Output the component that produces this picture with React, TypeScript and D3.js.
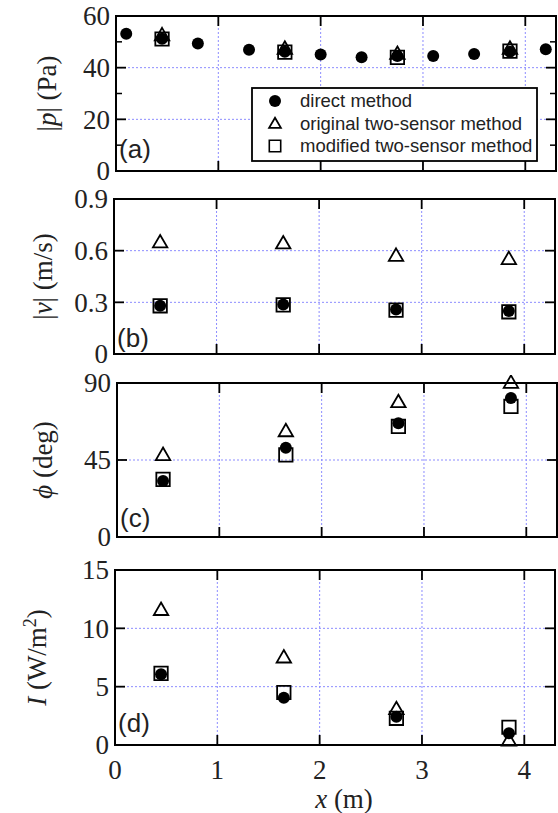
import React from 'react';
import * as d3 from 'd3';

// Four stacked panels sharing the x axis (position along the duct).
// Filled circles: direct method, triangles: original two-sensor, squares: modified two-sensor.

const W = 558;
const H = 813;

const xDirect = [0.1, 0.45, 0.8, 1.3, 1.65, 2.0, 2.4, 2.75, 3.1, 3.5, 3.85, 4.2];
const pDirect = [53.1, 51.2, 49.4, 46.9, 46.2, 45.1, 44.0, 44.5, 44.5, 45.3, 46.2, 47.1];

const xSensor = [0.45, 1.65, 2.75, 3.85];
const pOriginal = [52.2, 47.0, 45.0, 47.0];
const pModified = [51.1, 46.0, 44.0, 46.4];

const vDirect = [0.28, 0.288, 0.259, 0.249];
const vOriginal = [0.643, 0.637, 0.565, 0.546];
const vModified = [0.28, 0.285, 0.255, 0.245];

const phiDirect = [32.7, 52.2, 66.5, 81.2];
const phiOriginal = [47.4, 61.3, 78.3, 89.6];
const phiModified = [33.7, 48.0, 64.6, 76.3];

const iDirect = [6.06, 4.06, 2.43, 1.0];
const iOriginal = [11.5, 7.43, 3.0, 0.3];
const iModified = [6.14, 4.5, 2.29, 1.52];

const xTicks = [0, 1, 2, 3, 4];
const legendLabels = ['direct method', 'original two-sensor method', 'modified two-sensor method'];

const SERIF = '"Liberation Serif", "Times New Roman", serif';
const SANS = '"Liberation Sans", Arial, sans-serif';
const GRID = '#8c8cff';

type Panel = {
  key: string;
  top: number;
  bottom: number;
  left: number;
  right: number;
  domain: [number, number];
  ticks: number[];
  minor: number[];
  tickFmt: (v: number) => string;
  direct: { x: number[]; y: number[] };
  original: number[];
  modified: number[];
  title: React.ReactNode;
  titleX: number;
  letterOff: number;
};

const panels: Panel[] = [
  {
    key: 'a', top: 16, bottom: 171, left: 116, right: 556,
    domain: [0, 60], ticks: [0, 20, 40, 60], minor: [10, 30, 50],
    tickFmt: v => String(v),
    direct: { x: xDirect, y: pDirect }, original: pOriginal, modified: pModified,
    title: <>|<tspan fontStyle="italic">p</tspan>| (Pa)</>, titleX: 56, letterOff: 13,
  },
  {
    key: 'b', top: 199, bottom: 354, left: 114, right: 555,
    domain: [0, 0.9], ticks: [0, 0.3, 0.6, 0.9], minor: [],
    tickFmt: v => (v === 0 ? '0' : String(v)),
    direct: { x: xSensor, y: vDirect }, original: vOriginal, modified: vModified,
    title: <>|<tspan fontStyle="italic">v</tspan>| (m/s)</>, titleX: 52, letterOff: 7,
  },
  {
    key: 'c', top: 383, bottom: 537, left: 117, right: 557,
    domain: [0, 90], ticks: [0, 45, 90], minor: [],
    tickFmt: v => String(v),
    direct: { x: xSensor, y: phiDirect }, original: phiOriginal, modified: phiModified,
    title: <><tspan fontStyle="italic">ϕ</tspan> (deg)</>, titleX: 52, letterOff: 10,
  },
  {
    key: 'd', top: 570, bottom: 745, left: 115, right: 555,
    domain: [0, 15], ticks: [0, 5, 10, 15], minor: [],
    tickFmt: v => String(v),
    direct: { x: xSensor, y: iDirect }, original: iOriginal, modified: iModified,
    title: <><tspan fontStyle="italic">I</tspan> (W/m<tspan dy="-10" fontSize="18">2</tspan><tspan dy="10">)</tspan></>, titleX: 46, letterOff: 13,
  },
];

const triPath = d3.symbol(d3.symbolTriangle, 90)()!;
const sqPath = d3.symbol(d3.symbolSquare, 180)()!;

function PanelView({ p }: { p: Panel }) {
  const x = d3.scaleLinear().domain([0, 4.3]).range([p.left, p.right]);
  const y = d3.scaleLinear().domain(p.domain).range([p.bottom, p.top]);
  const inner = p.ticks.slice(1, -1);
  const MAJ = 10;
  const MIN = 6;
  const clipId = `clip-${p.key}`;
  return (
    <g>
      <clipPath id={clipId}>
        <rect x={p.left - 8} y={p.top - 8} width={p.right - p.left + 16} height={p.bottom - p.top + 16} />
      </clipPath>
      {/* grid */}
      {xTicks.slice(1).map(t => (
        <line key={`gx${t}`} x1={x(t)} x2={x(t)} y1={p.top} y2={p.bottom}
          stroke={GRID} strokeWidth={1} strokeDasharray="2,2" />
      ))}
      {inner.map(t => (
        <line key={`gy${t}`} x1={p.left} x2={p.right} y1={y(t)} y2={y(t)}
          stroke={GRID} strokeWidth={1} strokeDasharray="2,2" />
      ))}
      {/* ticks */}
      {xTicks.slice(1).map(t => (
        <g key={`tx${t}`} stroke="#000" strokeWidth={1.8}>
          <line x1={x(t)} x2={x(t)} y1={p.bottom} y2={p.bottom - MAJ} />
          <line x1={x(t)} x2={x(t)} y1={p.top} y2={p.top + MAJ} />
        </g>
      ))}
      {inner.map(t => (
        <g key={`ty${t}`} stroke="#000" strokeWidth={1.8}>
          <line x1={p.left} x2={p.left + MAJ} y1={y(t)} y2={y(t)} />
          <line x1={p.right} x2={p.right - MAJ} y1={y(t)} y2={y(t)} />
        </g>
      ))}
      {p.minor.map(t => (
        <g key={`tm${t}`} stroke="#000" strokeWidth={1.5}>
          <line x1={p.left} x2={p.left + MIN} y1={y(t)} y2={y(t)} />
          <line x1={p.right} x2={p.right - MIN} y1={y(t)} y2={y(t)} />
        </g>
      ))}
      {/* y tick labels */}
      {p.ticks.map(t => (
        <text key={`yl${t}`} x={p.left - 6} y={y(t)} dy="0.35em" textAnchor="end"
          fontFamily={SERIF} fontSize={27} fill="#222">{p.tickFmt(t)}</text>
      ))}
      {/* y title */}
      <text transform={`translate(${p.titleX},${(p.top + p.bottom) / 2}) rotate(-90)`}
        textAnchor="middle" fontFamily={SERIF} fontSize={27} fill="#222">{p.title}</text>
      {/* panel letter */}
      <text x={p.left + 3} y={p.bottom - p.letterOff} fontFamily={SANS} fontSize={26} fill="#222">({p.key})</text>
      {/* markers */}
      <g clipPath={`url(#${clipId})`}>
        {xSensor.map((xv, i) => (
          <path key={`o${i}`} d={triPath} transform={`translate(${x(xv)},${y(p.original[i])})`}
            fill="none" stroke="#000" strokeWidth={1.8} />
        ))}
        {xSensor.map((xv, i) => (
          <path key={`m${i}`} d={sqPath} transform={`translate(${x(xv)},${y(p.modified[i])})`}
            fill="none" stroke="#000" strokeWidth={1.8} />
        ))}
        {p.direct.x.map((xv, i) => (
          <circle key={`d${i}`} cx={x(xv)} cy={y(p.direct.y[i])} r={6} fill="#000" />
        ))}
      </g>
      {/* frame */}
      <rect x={p.left} y={p.top} width={p.right - p.left} height={p.bottom - p.top}
        fill="none" stroke="#000" strokeWidth={2} />
    </g>
  );
}

function Legend() {
  const x0 = 252;
  const y0 = 88;
  const w = 285;
  const h = 73;
  const rowY = [101, 123.5, 146];
  const legTri = d3.symbol(d3.symbolTriangle, 60)()!;
  const legSq = d3.symbol(d3.symbolSquare, 130)()!;
  return (
    <g>
      <rect x={x0} y={y0} width={w} height={h} fill="#fff" stroke="#000" strokeWidth={1.8} />
      <circle cx={275} cy={rowY[0]} r={6} fill="#000" />
      <path d={legTri} transform={`translate(275,${rowY[1] + 1})`} fill="none" stroke="#000" strokeWidth={1.8} />
      <path d={legSq} transform={`translate(275,${rowY[2]})`} fill="none" stroke="#000" strokeWidth={1.6} />
      {legendLabels.map((l, i) => (
        <text key={l} x={300} y={rowY[i]} dy="0.35em" fontFamily={SANS} fontSize={18.5} fill="#222">{l}</text>
      ))}
    </g>
  );
}

export default function App() {
  const last = panels[panels.length - 1];
  const x = d3.scaleLinear().domain([0, 4.3]).range([last.left, last.right]);
  return (
    <svg width={W} height={H} style={{ position: 'absolute', left: 0, top: 0, background: '#fff' }}>
      <rect width={W} height={H} fill="#fff" />
      {panels.map(p => <PanelView key={p.key} p={p} />)}
      <Legend />
      {xTicks.map(t => (
        <text key={`xl${t}`} x={x(t)} y={779} textAnchor="middle" fontFamily={SERIF} fontSize={27} fill="#222">{t}</text>
      ))}
      <text x={344} y={808} textAnchor="middle" fontFamily={SERIF} fontSize={27} fill="#222">
        <tspan fontStyle="italic">x</tspan> (m)
      </text>
    </svg>
  );
}
